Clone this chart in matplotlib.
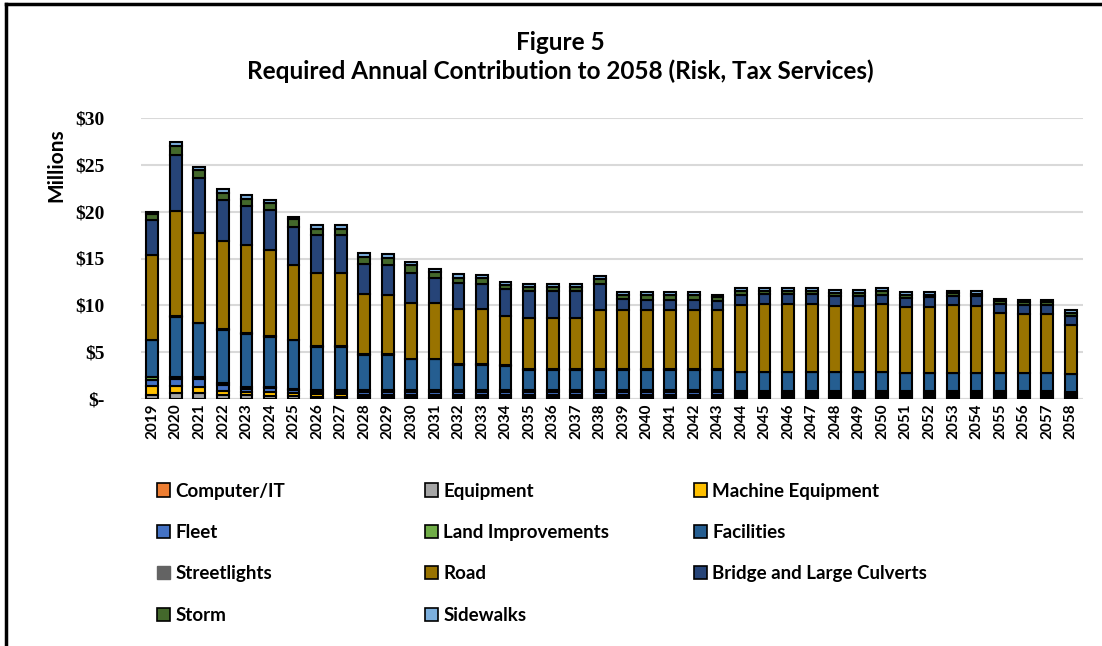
import matplotlib
matplotlib.use("Agg")
import matplotlib.pyplot as plt
import numpy as np
from matplotlib.patches import Patch
from matplotlib.lines import Line2D

years = [str(y) for y in range(2019, 2059)]

categories = [
    "Computer/IT", "Equipment", "Machine Equipment", "Fleet",
    "Land Improvements", "Facilities", "Streetlights", "Road",
    "Bridge and Large Culverts", "Storm", "Sidewalks",
]

# values in $ millions (2019 .. 2058)
computer_it = [0.05] * 40
equipment = [0.35, 0.55, 0.55, 0.4, 0.35, 0.3, 0.3, 0.2, 0.2, 0.2,
             0.2, 0.2, 0.2, 0.2, 0.2, 0.2, 0.2, 0.2, 0.2, 0.2,
             0.2, 0.2, 0.2, 0.2, 0.2, 0.15, 0.15, 0.15, 0.15, 0.15,
             0.15, 0.15, 0.15, 0.15, 0.15, 0.15, 0.15, 0.15, 0.15, 0.1]
machine_equipment = [1.0, 0.8, 0.7, 0.45, 0.3, 0.35, 0.3, 0.25, 0.25, 0.2,
                     0.2, 0.2, 0.2, 0.2, 0.2, 0.2, 0.2, 0.2, 0.2, 0.2,
                     0.2, 0.2, 0.2, 0.2, 0.2, 0.2, 0.2, 0.2, 0.2, 0.2,
                     0.2, 0.2, 0.2, 0.2, 0.2, 0.2, 0.2, 0.2, 0.2, 0.2]
fleet = [0.6, 0.7, 0.8, 0.6, 0.4, 0.45, 0.3, 0.3, 0.3, 0.3,
         0.3, 0.3, 0.3, 0.3, 0.3, 0.3, 0.3, 0.3, 0.3, 0.3,
         0.3, 0.3, 0.3, 0.3, 0.3, 0.25, 0.25, 0.25, 0.25, 0.25,
         0.25, 0.25, 0.25, 0.25, 0.25, 0.25, 0.25, 0.25, 0.25, 0.2]
land_improvements = [0.3, 0.3, 0.3, 0.2, 0.15, 0.15, 0.15, 0.15, 0.15, 0.2,
                     0.2, 0.2, 0.2, 0.2, 0.2, 0.2, 0.2, 0.2, 0.2, 0.2,
                     0.2, 0.2, 0.2, 0.2, 0.2, 0.2, 0.2, 0.2, 0.2, 0.2,
                     0.2, 0.2, 0.2, 0.2, 0.2, 0.2, 0.2, 0.2, 0.2, 0.2]
facilities = [4.0, 6.4, 5.7, 5.7, 5.7, 5.35, 5.15, 4.65, 4.65, 3.8,
              3.8, 3.3, 3.3, 2.7, 2.7, 2.6, 2.15, 2.15, 2.15, 2.15,
              2.15, 2.15, 2.15, 2.15, 2.15, 2.0, 2.0, 2.0, 2.0, 2.0,
              2.0, 2.0, 1.9, 1.9, 1.9, 1.9, 1.9, 1.9, 1.9, 1.9]
streetlights = [0.05] * 40
road = [9.0, 11.25, 9.55, 9.45, 9.4, 9.2, 8.0, 7.85, 7.85, 6.4,
        6.3, 5.9, 5.9, 5.95, 5.9, 5.3, 5.55, 5.55, 5.55, 6.35,
        6.35, 6.35, 6.35, 6.35, 6.3, 7.15, 7.25, 7.25, 7.25, 7.0,
        7.0, 7.25, 7.0, 7.05, 7.2, 7.15, 6.4, 6.3, 6.3, 5.2]
bridge = [3.8, 6.0, 5.9, 4.3, 4.2, 4.3, 4.1, 4.0, 4.0, 3.2,
          3.2, 3.3, 2.7, 2.7, 2.7, 2.8, 2.8, 2.8, 2.8, 2.75,
          1.15, 1.1, 1.1, 1.1, 1.05, 1.1, 1.05, 1.05, 1.05, 1.05,
          1.05, 1.0, 1.0, 1.0, 1.0, 1.0, 0.95, 0.95, 0.95, 1.0]
storm = [0.6, 0.9, 0.8, 0.8, 0.8, 0.7, 0.8, 0.7, 0.7, 0.8,
         0.8, 0.8, 0.7, 0.6, 0.6, 0.5, 0.5, 0.5, 0.5, 0.6,
         0.5, 0.5, 0.5, 0.5, 0.35, 0.35, 0.35, 0.35, 0.35, 0.35,
         0.35, 0.35, 0.3, 0.3, 0.3, 0.3, 0.3, 0.3, 0.3, 0.3]
sidewalks = [0.2, 0.4, 0.35, 0.4, 0.35, 0.3, 0.2, 0.4, 0.4, 0.35,
             0.35, 0.3, 0.3, 0.35, 0.35, 0.3, 0.3, 0.3, 0.3, 0.3,
             0.3, 0.3, 0.3, 0.3, 0.3, 0.3, 0.3, 0.3, 0.3, 0.3,
             0.3, 0.3, 0.3, 0.3, 0.2, 0.25, 0.25, 0.25, 0.25, 0.25]

colors = ["#ED7D31", "#A5A5A5", "#FFC000", "#4472C4", "#70AD47", "#255E91",
          "#636363", "#997300", "#264478", "#43682B", "#7CAFDD"]

series = [computer_it, equipment, machine_equipment, fleet, land_improvements,
          facilities, streetlights, road, bridge, storm, sidewalks]

sans = ["Lato", "DejaVu Sans"]
serif = ["Liberation Serif", "DejaVu Serif"]

fig = plt.figure(figsize=(11.02, 6.46), dpi=100)
ax = fig.add_axes([140.5 / 1102, 1 - 399 / 646, 942 / 1102, 281 / 646])

x = np.arange(len(years))
bottom = np.zeros(len(years))
for vals, col, name in zip(series, colors, categories):
    ax.bar(x, vals, bottom=bottom, width=0.5, color=col, edgecolor="black",
           linewidth=1.5, label=name, zorder=3)
    bottom += np.array(vals)

ax.set_xlim(-0.5, len(years) - 0.5)
ax.set_ylim(0, 30)
ax.set_yticks([0, 5, 10, 15, 20, 25, 30])
ax.set_yticklabels(["$-", "$5", "$10", "$15", "$20", "$25", "$30"],
                   family=serif, fontweight="bold", fontsize=14)
ax.set_xticks(x)
ax.set_xticklabels(years, rotation=90, family=sans, fontweight="bold", fontsize=11)
ax.tick_params(length=0, pad=3)
ax.tick_params(axis="y", pad=26)
ax.yaxis.grid(True, color="#D9D9D9", linewidth=1.5, zorder=0)
for s in ax.spines.values():
    s.set_visible(False)
ax.axhline(0, color="#D9D9D9", linewidth=1.5, zorder=1)

fig.text(56 / 1102, 1 - 165 / 646, "Millions", rotation=90, ha="center", va="center",
         family=sans, fontweight="bold", fontsize=15)

fig.text(560 / 1102, 1 - 42 / 646, "Figure 5", ha="center", va="center",
         family=sans, fontweight="bold", fontsize=17.5)
fig.text(560 / 1102, 1 - 71 / 646, "Required Annual Contribution to 2058 (Risk, Tax Services)",
         ha="center", va="center", family=sans, fontweight="bold", fontsize=17.5)

# legend in three columns, row-wise order like the original
handles = []
for name, col in zip(categories, colors):
    if name == "Streetlights":
        handles.append(Patch(facecolor=col, edgecolor=col, label=name))
    else:
        handles.append(Patch(facecolor=col, edgecolor="black", linewidth=1.2, label=name))
col_x = [149, 417, 686]
for c in range(3):
    hs = handles[c::3]
    fig.legend(handles=hs, loc="upper left",
               bbox_to_anchor=(col_x[c] / 1102, 1 - 475 / 646),
               frameon=False, prop={"family": sans, "weight": "bold", "size": 13.5},
               handlelength=0.7, handleheight=0.7, handletextpad=0.3,
               labelspacing=1.3, borderaxespad=0)

# outer frame (left and top edges visible)
fig.add_artist(Line2D([6 / 1102, 6 / 1102], [0, 1 - 4 / 646], color="black", linewidth=2.5))
fig.add_artist(Line2D([6 / 1102, 1], [1 - 4 / 646, 1 - 4 / 646], color="black", linewidth=2.5))

fig.savefig("out.png", dpi=100)
